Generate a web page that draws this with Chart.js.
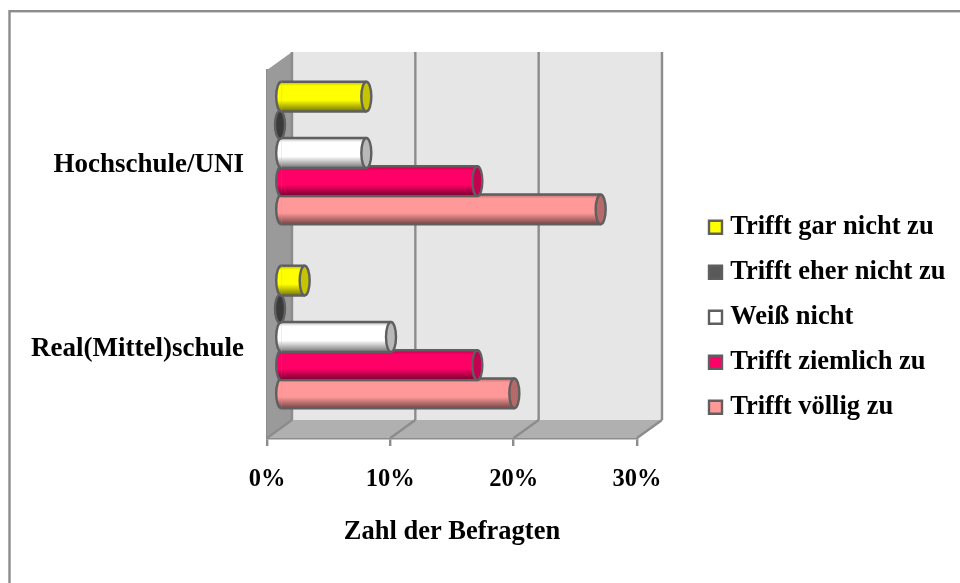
<!DOCTYPE html>
<html>
<head>
<meta charset="utf-8">
<style>
    html, body { margin: 0; padding: 0; background: #fff; }
    #wrap { width: 960px; height: 583px; position: relative; overflow: hidden; }
</style>
<script src="https://cdn.jsdelivr.net/npm/chart.js@4"></script>
</head>
<body>
<div id="wrap"><canvas id="chart" width="960" height="583"></canvas></div>
<script>
// Data
const categories = ['Hochschule/UNI', 'Real(Mittel)schule'];
const seriesNames = ['Trifft gar nicht zu', 'Trifft eher nicht zu', 'Weiß nicht', 'Trifft ziemlich zu', 'Trifft völlig zu'];
const garNicht = [7, 2];
const eherNicht = [0, 0];
const weissNicht = [7, 9];
const ziemlich = [16, 16];
const voellig = [26, 19];
const tickLabels = ['0%', '10%', '20%', '30%'];
const axisTitle = 'Zahl der Befragten';

// Colours
const barColors = ['#ffff00', '#595959', '#ffffff', '#ff0066', '#ff9999'];
const capColors = ['#c4c400', '#3a3a3a', '#b8b8b8', '#c40050', '#b56a6a'];
const OUTLINE = '#5f5f5f';
const FRAME = '#8c8c8c';
const FONT = "'Liberation Serif', 'Times New Roman', serif";

// 3D depth of the box, and of the plane the bars stand in
const DEPTH_X = 25;
const DEPTH_Y = -18;
const BAR_DX = 13;
const BAR_DY = -9;
const CAP_RX = 5;

const allValues = [garNicht, eherNicht, weissNicht, ziemlich, voellig];

function line(ctx, x1, y1, x2, y2) {
    ctx.beginPath();
    ctx.moveTo(x1, y1);
    ctx.lineTo(x2, y2);
    ctx.stroke();
}

function poly(ctx, pts, fill) {
    ctx.fillStyle = fill;
    ctx.beginPath();
    pts.forEach((p, i) => i ? ctx.lineTo(p[0], p[1]) : ctx.moveTo(p[0], p[1]));
    ctx.closePath();
    ctx.fill();
}

const box3d = {
    id: 'box3d',
    beforeDraw(chart) {
        const ctx = chart.ctx;
        ctx.save();
        ctx.strokeStyle = FRAME;
        ctx.lineWidth = 2.4;
        ctx.strokeRect(9.5, 11.2, 1000, 1000);
        ctx.restore();
    },
    // walls and floor behind the bars
    beforeDatasetsDraw(chart) {
        const ctx = chart.ctx;
        const { left, right, top, bottom } = chart.chartArea;
        const x = chart.scales.x;
        const dx = DEPTH_X, dy = DEPTH_Y;
        ctx.save();
        poly(ctx, [[left + dx, top + dy], [right + dx, top + dy], [right + dx, bottom + dy], [left + dx, bottom + dy]], '#e6e6e6');
        poly(ctx, [[left, top], [left + dx, top + dy], [left + dx, bottom + dy], [left, bottom]], '#9a9a9a');
        poly(ctx, [[left, bottom], [left + dx, bottom + dy], [right + dx, bottom + dy], [right, bottom]], '#b0b0b0');
        ctx.strokeStyle = FRAME;
        ctx.lineWidth = 2.4;
        x.ticks.forEach(t => {
            const px = x.getPixelForValue(t.value);
            line(ctx, px + dx, top + dy, px + dx, bottom + dy);
            line(ctx, px, bottom, px + dx, bottom + dy);
        });
        ctx.restore();
    },
    // every bar sits in the middle plane of the box
    beforeDatasetDraw(chart) {
        chart.ctx.save();
        chart.ctx.translate(BAR_DX, BAR_DY);
    },
    afterDatasetDraw(chart, args) {
        const ctx = chart.ctx;
        const i = args.index;
        args.meta.data.forEach(bar => {
            const { x, y, base, height } = bar.getProps(['x', 'y', 'base', 'height'], true);
            const h = height / 2;
            const isEmpty = Math.abs(x - base) < 1;

            if (!isEmpty) {
                // cylinder shading on the flat bar
                const g = ctx.createLinearGradient(0, y - h, 0, y + h);
                g.addColorStop(0, 'rgba(0,0,0,0.28)');
                g.addColorStop(0.14, 'rgba(0,0,0,0)');
                g.addColorStop(0.62, 'rgba(0,0,0,0)');
                g.addColorStop(1, 'rgba(0,0,0,0.55)');
                ctx.fillStyle = g;
                ctx.fillRect(base, y - h, x - base, height);
                ctx.strokeStyle = OUTLINE;
                ctx.lineWidth = 2.4;
                line(ctx, base, y - h, x, y - h);
                line(ctx, base, y + h, x, y + h);

                // rounded start of the tube
                ctx.beginPath();
                ctx.ellipse(base, y, CAP_RX, h, 0, Math.PI / 2, Math.PI * 1.5);
                ctx.fillStyle = barColors[i];
                ctx.fill();
                ctx.fillStyle = g;
                ctx.fill();
                ctx.stroke();
            }

            // end cap
            ctx.beginPath();
            ctx.ellipse(x, y, CAP_RX, h - (isEmpty ? 1 : 0), 0, 0, Math.PI * 2);
            ctx.fillStyle = capColors[i];
            ctx.fill();
            ctx.strokeStyle = OUTLINE;
            ctx.lineWidth = 2.4;
            ctx.stroke();
        });
        ctx.restore();
    },
    afterLayout(chart) {
        const lg = chart.legend;
        lg.left = 695.5;
        lg.right = 960;
        lg.top = 195.5;
        lg.bottom = 583;
    }
};

const ctx = document.getElementById('chart').getContext('2d');

new Chart(ctx, {
    type: 'bar',
    data: {
        labels: categories,
        datasets: seriesNames.map((name, i) => ({
            label: name,
            data: allValues[i],
            backgroundColor: barColors[i],
            borderWidth: 0,
            categoryPercentage: 0.766,
            barPercentage: 1.06
        }))
    },
    options: {
        indexAxis: 'y',
        responsive: false,
        animation: false,
        layout: { padding: { left: 0, right: 323, top: 70, bottom: 0 } },
        scales: {
            x: {
                min: 0,
                max: 30,
                afterFit: s => { s.height = 145; },
                grid: { drawOnChartArea: false, color: FRAME, lineWidth: 2.4, tickLength: 8 },
                border: { color: FRAME, width: 2.4 },
                ticks: {
                    stepSize: 10,
                    maxRotation: 0,
                    color: '#000',
                    padding: 19,
                    font: { family: FONT, size: 24.5, weight: 'bold' },
                    callback: (v, i) => tickLabels[i]
                },
                title: {
                    display: true,
                    text: axisTitle,
                    color: '#000',
                    font: { family: FONT, size: 26.5, weight: 'bold' },
                    padding: { top: 0, bottom: 35 }
                }
            },
            y: {
                afterFit: s => { s.width = 267; },
                grid: { display: false },
                border: { color: FRAME, width: 2.4 },
                ticks: {
                    color: '#000',
                    padding: 15,
                    labelOffset: 3.5,
                    font: { family: FONT, size: 27, weight: 'bold' }
                }
            }
        },
        plugins: {
            tooltip: { enabled: false },
            legend: {
                position: 'chartArea',
                align: 'start',
                labels: {
                    usePointStyle: true,
                    pointStyle: 'rect',
                    boxWidth: 3,
                    boxHeight: 13,
                    padding: 18.5,
                    color: '#000',
                    font: { family: FONT, size: 26.5, weight: 'bold' },
                    generateLabels: chart => chart.data.datasets.map((d, i) => ({
                        text: d.label,
                        fillStyle: barColors[i],
                        strokeStyle: OUTLINE,
                        lineWidth: 2.4,
                        pointStyle: 'rect',
                        datasetIndex: i,
                        fontColor: '#000'
                    }))
                }
            }
        }
    },
    plugins: [box3d]
});
</script>
</body>
</html>
